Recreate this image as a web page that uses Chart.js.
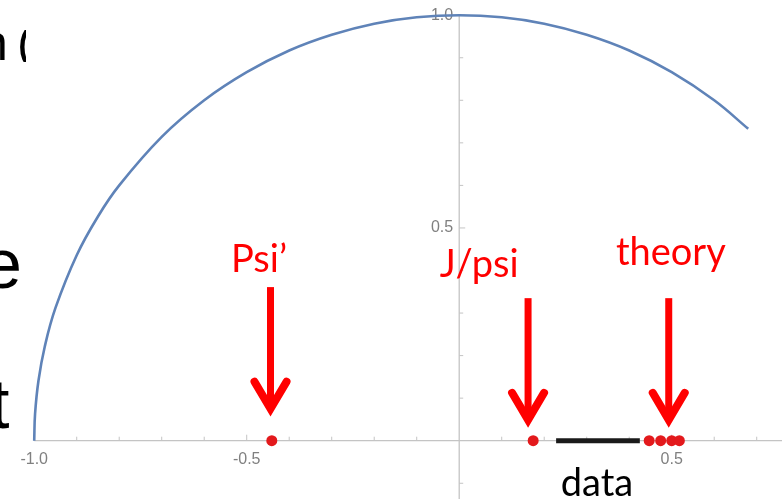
<!DOCTYPE html>
<html lang="en">
<head>
  <meta charset="UTF-8">
  <title>Unit circle with Psi', J/psi and theory points</title>
  <script src="https://cdn.jsdelivr.net/npm/chart.js"></script>
  <style>
    html, body {
      margin: 0;
      padding: 0;
      background: #ffffff;
    }
    canvas {
      display: block;
    }
  </style>
</head>
<body>
  <canvas id="circleChart" width="782" height="499"></canvas>

  <script>
    // arc of the unit circle
    const arcX = [-1, -0.998, -0.99, -0.975, -0.95, -0.9, -0.85, -0.8, -0.7, -0.6, -0.5, -0.4, -0.3, -0.2, -0.1, 0, 0.1, 0.2, 0.3, 0.4, 0.5, 0.6, 0.68];
    const arcY = [0, 0.063, 0.141, 0.222, 0.312, 0.436, 0.527, 0.6, 0.714, 0.8, 0.866, 0.917, 0.954, 0.98, 0.995, 1, 0.995, 0.98, 0.954, 0.917, 0.866, 0.8, 0.733];

    // points on the real axis
    const psiPrimeX = [-0.441];
    const jpsiX = [0.174];
    const theoryX = [0.447, 0.474, 0.5, 0.518];
    const dataRange = [0.228, 0.425];

    // axis ticks
    const xTickValues = [-1.0, -0.5, 0.5];
    const xTickLabels = ['-1.0', '-0.5', '0.5'];
    const yTickValues = [0.5, 1.0];
    const yTickLabels = ['0.5', '1.0'];

    // red arrows: x, top y, tip y (data units) and their captions
    const arrowX = [-0.444, 0.162, 0.493];
    const arrowTop = [0.361, 0.335, 0.335];
    const arrowTip = [0.068, 0.042, 0.042];
    const arrowText = ['Psi\u2019', 'J/psi', 'theory'];
    const arrowTextX = [-0.471, 0.047, 0.498];
    const arrowTextY = [0.396, 0.384, 0.413];

    const axisColor = '#c4c4c4';
    const tickText = '#808080';

    const axesPlugin = {
      id: 'crossAxes',
      beforeDatasetsDraw(chart) {
        const ctx = chart.ctx;
        const xs = chart.scales.x;
        const ys = chart.scales.y;
        const x0 = xs.getPixelForValue(0);
        const y0 = ys.getPixelForValue(0);
        ctx.save();
        ctx.strokeStyle = axisColor;
        ctx.lineWidth = 1.3;
        ctx.beginPath();
        ctx.moveTo(xs.getPixelForValue(-1), y0);
        ctx.lineTo(chart.width, y0);
        ctx.moveTo(x0, ys.getPixelForValue(1.0));
        ctx.lineTo(x0, chart.height);
        ctx.stroke();

        // minor and major ticks
        ctx.lineWidth = 1;
        ctx.beginPath();
        for (let i = -10; i <= 7; i++) {
          if (i === 0) continue;
          const px = xs.getPixelForValue(i / 10);
          const len = i % 5 === 0 ? 6 : 4;
          ctx.moveTo(px, y0);
          ctx.lineTo(px, y0 - len);
        }
        for (let j = -1; j <= 10; j++) {
          if (j === 0) continue;
          const py = ys.getPixelForValue(j / 10);
          const len = j % 5 === 0 ? 6 : 4;
          ctx.moveTo(x0, py);
          ctx.lineTo(x0 + len, py);
        }
        ctx.stroke();

        ctx.fillStyle = tickText;
        ctx.font = '16px "Liberation Sans", Arial, sans-serif';
        ctx.textAlign = 'center';
        ctx.textBaseline = 'middle';
        xTickValues.forEach((v, i) => {
          ctx.fillText(xTickLabels[i], xs.getPixelForValue(v), y0 + 19);
        });
        ctx.textAlign = 'right';
        yTickValues.forEach((v, i) => {
          ctx.fillText(yTickLabels[i], x0 - 6, ys.getPixelForValue(v));
        });
        ctx.restore();
      },
      afterDatasetsDraw(chart) {
        const ctx = chart.ctx;
        const xs = chart.scales.x;
        const ys = chart.scales.y;
        ctx.save();

        // arrows
        ctx.strokeStyle = '#ff0000';
        ctx.fillStyle = '#ff0000';
        arrowX.forEach((v, i) => {
          const px = xs.getPixelForValue(v);
          const top = ys.getPixelForValue(arrowTop[i]);
          const tip = ys.getPixelForValue(arrowTip[i]);
          ctx.lineWidth = 7;
          ctx.lineCap = 'butt';
          ctx.beginPath();
          ctx.moveTo(px, top);
          ctx.lineTo(px, tip - 6);
          ctx.stroke();
          ctx.lineWidth = 8;
          ctx.lineCap = 'round';
          ctx.lineJoin = 'miter';
          ctx.beginPath();
          ctx.moveTo(px - 16, tip - 30);
          ctx.lineTo(px, tip - 3);
          ctx.lineTo(px + 16, tip - 30);
          ctx.stroke();
        });

        ctx.font = '38px Lato, "Open Sans", sans-serif';
        ctx.textAlign = 'center';
        ctx.textBaseline = 'alphabetic';
        arrowText.forEach((t, i) => {
          ctx.fillText(t, xs.getPixelForValue(arrowTextX[i]), ys.getPixelForValue(arrowTextY[i]));
        });

        ctx.fillStyle = '#000000';
        ctx.fillText('data', xs.getPixelForValue((dataRange[0] + dataRange[1]) / 2) - 1, ys.getPixelForValue(-0.13));

        // slide text peeking in at the left edge
        ctx.save();
        ctx.beginPath();
        ctx.rect(0, 0, 25, chart.height);
        ctx.clip();
        ctx.textAlign = 'left';
        ctx.font = '70px "Liberation Sans", Arial, sans-serif';
        ctx.fillText('e', -17, 288);
        ctx.fillText('t', -10, 428);
        ctx.restore();
        ctx.save();
        ctx.beginPath();
        ctx.rect(0, 30, 26, 32);
        ctx.clip();
        ctx.font = '50px "Liberation Sans", Arial, sans-serif';
        ctx.textAlign = 'left';
        ctx.fillStyle = '#000000';
        ctx.fillText('n', -20, 60);
        ctx.fillText('(', 17, 60);
        ctx.restore();

        ctx.restore();
      }
    };

    new Chart(document.getElementById('circleChart'), {
      type: 'scatter',
      data: {
        datasets: [
          {
            label: 'arc',
            data: arcX.map((x, i) => ({ x: x, y: arcY[i] })),
            showLine: true,
            borderColor: '#5f83b8',
            borderWidth: 2.6,
            pointRadius: 0,
            tension: 0.4,
            clip: false
          },
          {
            label: 'data',
            data: dataRange.map(x => ({ x: x, y: 0 })),
            showLine: true,
            borderColor: '#1a1a1a',
            borderWidth: 5,
            pointRadius: 0
          },
          {
            label: 'points',
            data: psiPrimeX.concat(jpsiX, theoryX).map(x => ({ x: x, y: 0 })),
            backgroundColor: '#e3191c',
            borderWidth: 0,
            pointRadius: 5.5
          }
        ]
      },
      options: {
        responsive: false,
        animation: false,
        devicePixelRatio: 1,
        layout: { padding: 0, autoPadding: false },
        plugins: {
          legend: { display: false },
          tooltip: { enabled: false }
        },
        scales: {
          x: { type: 'linear', min: -1.0805, max: 0.7595, display: false },
          y: { type: 'linear', min: -0.137, max: 1.0357, display: false }
        }
      },
      plugins: [axesPlugin]
    });
  </script>
</body>
</html>
